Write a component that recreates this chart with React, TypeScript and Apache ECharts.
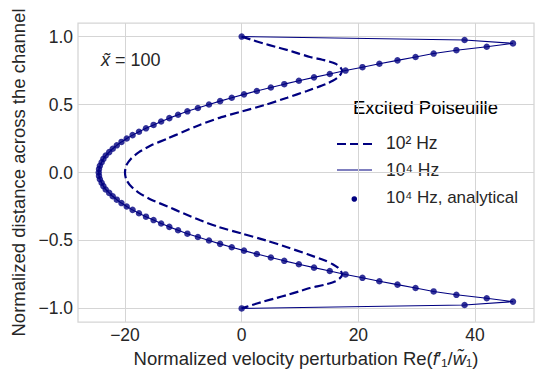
import React, { useEffect, useRef } from "react";
import * as echarts from "echarts";

// Normalized distance levels (shared by the 10^4 Hz solution and analytical points)
const Y_LEVELS = [
  1.0, 0.975, 0.95, 0.925, 0.9, 0.875, 0.85, 0.825, 0.8, 0.775, 0.75, 0.725, 0.7, 0.675, 0.65, 0.625,
  0.6, 0.575, 0.55, 0.525, 0.5, 0.475, 0.45, 0.425, 0.4, 0.375, 0.35, 0.325, 0.3, 0.275, 0.25, 0.225,
  0.2, 0.175, 0.15, 0.125, 0.1, 0.075, 0.05, 0.025, 0.0,
  -0.025, -0.05, -0.075, -0.1, -0.125, -0.15, -0.175, -0.2, -0.225, -0.25, -0.275, -0.3, -0.325, -0.35,
  -0.375, -0.4, -0.425, -0.45, -0.475, -0.5, -0.525, -0.55, -0.575, -0.6, -0.625, -0.65, -0.675, -0.7,
  -0.725, -0.75, -0.775, -0.8, -0.825, -0.85, -0.875, -0.9, -0.925, -0.95, -0.975, -1.0,
];

// 10^4 Hz velocity perturbation (solid line and analytical dots)
const HZ1E4_X = [
  0, 38.2, 46.5, 42.0, 36.8, 32.9, 29.8, 26.7, 23.6, 20.7, 17.8, 15.1, 12.4, 9.8, 7.3, 5.0,
  2.6, 0.4, -1.7, -3.7, -5.6, -7.5, -9.3, -10.9, -12.4, -13.8, -15.1, -16.4, -17.6, -18.7, -19.7, -20.6,
  -21.4, -22.1, -22.7, -23.3, -23.7, -24.0, -24.3, -24.45, -24.5,
  -24.45, -24.3, -24.0, -23.7, -23.3, -22.7, -22.1, -21.4, -20.6, -19.7, -18.7, -17.6, -16.4, -15.1,
  -13.8, -12.4, -10.9, -9.3, -7.5, -5.6, -3.7, -1.7, 0.4, 2.6, 5.0, 7.3, 9.8, 12.4,
  15.1, 17.8, 20.7, 23.6, 26.7, 29.8, 32.9, 36.8, 42.0, 46.5, 38.2, 0,
];

// 10^2 Hz velocity perturbation (dashed line)
const HZ1E2_Y = [
  1.0, 0.975, 0.95, 0.925, 0.9, 0.875, 0.85, 0.825, 0.8, 0.775, 0.75, 0.725, 0.7, 0.675, 0.65,
  0.6, 0.55, 0.5, 0.45, 0.4, 0.35, 0.3, 0.25, 0.2, 0.15, 0.1, 0.05, 0.0,
  -0.05, -0.1, -0.15, -0.2, -0.25, -0.3, -0.35, -0.4, -0.45, -0.5, -0.55, -0.6,
  -0.65, -0.675, -0.7, -0.725, -0.75, -0.775, -0.8, -0.825, -0.85, -0.875, -0.9, -0.925, -0.95, -0.975, -1.0,
];
const HZ1E2_X = [
  0, 1.8, 3.7, 5.8, 7.9, 9.8, 11.7, 14.3, 16.1, 16.9, 17.2, 17.0, 16.5, 15.6, 14.4,
  11.2, 7.8, 4.2, 0.1, -4.0, -7.2, -10.0, -12.7, -15.5, -17.6, -19.0, -19.8, -20.0,
  -19.8, -19.0, -17.6, -15.5, -12.7, -10.0, -7.2, -4.0, 0.1, 4.2, 7.8, 11.2,
  14.4, 15.6, 16.5, 17.0, 17.2, 16.9, 16.1, 14.3, 11.7, 9.8, 7.9, 5.8, 3.7, 1.8, 0,
];

const X_TICKS = [-20, 0, 20, 40];
const Y_TICKS = [-1.0, -0.5, 0.0, 0.5, 1.0];

const NAVY = "#000080";
const TEXT = "#262626";
const GRID = "#d5d5d5";
const FONT = "'Liberation Sans', Arial, sans-serif";

const fmtMinus = (s: string) => s.replace("-", "\u2212");

export default function App() {
  const ref = useRef<HTMLDivElement>(null);
  useEffect(() => {
    if (!ref.current) return;
    const chart = echarts.init(ref.current, null, { renderer: "svg" });
    const solid = HZ1E4_X.map((x, i) => [x, Y_LEVELS[i]]);
    const dashed = HZ1E2_X.map((x, i) => [x, HZ1E2_Y[i]]);
    chart.setOption({
      animation: false,
      backgroundColor: "#ffffff",
      textStyle: { fontFamily: FONT, color: TEXT },
      grid: {
        left: 78,
        right: 11,
        top: 23,
        bottom: 55,
        show: true,
        borderColor: GRID,
        borderWidth: 1.25,
        backgroundColor: "transparent",
      },
      xAxis: {
        type: "value",
        min: -28.05,
        max: 50.1,
        axisLine: { show: false },
        axisTick: { show: false, customValues: X_TICKS },
        axisLabel: {
          customValues: X_TICKS,
          formatter: (v: number) => fmtMinus(String(v)),
          color: TEXT,
          fontFamily: FONT,
          fontSize: 17.5,
          margin: 4,
        },
        splitLine: { show: true, lineStyle: { color: GRID, width: 1 } },
        name: "Normalized velocity perturbation Re({i|f}\u2032\u2081/{i|w\u0303}\u2081)",
        nameLocation: "middle",
        nameGap: 26,
        nameTextStyle: {
          color: TEXT,
          fontFamily: FONT,
          fontSize: 18.5,
          rich: { i: { fontStyle: "italic", fontFamily: FONT, fontSize: 18.5, color: TEXT } },
        },
      },
      yAxis: {
        type: "value",
        min: -1.1,
        max: 1.1,
        axisLine: { show: false },
        axisTick: { show: false, customValues: Y_TICKS },
        axisLabel: {
          customValues: Y_TICKS,
          formatter: (v: number) => fmtMinus(v.toFixed(1)),
          color: TEXT,
          fontFamily: FONT,
          fontSize: 17.5,
          margin: 5,
        },
        splitLine: { show: true, lineStyle: { color: GRID, width: 1 } },
        name: "Normalized distance across the channel",
        nameLocation: "middle",
        nameGap: 46,
        nameTextStyle: { color: TEXT, fontFamily: FONT, fontSize: 18.5 },
      },
      series: [
        {
          name: "10\u00b2 Hz",
          type: "line",
          data: dashed,
          showSymbol: false,
          symbol: "none",
          smooth: 0.2,
          lineStyle: { color: NAVY, width: 2.2, type: [9, 4] },
          z: 2,
        },
        {
          name: "10\u2074 Hz",
          type: "line",
          data: solid,
          showSymbol: false,
          symbol: "none",
          lineStyle: { color: NAVY, width: 1.1 },
          z: 3,
        },
        {
          name: "10\u2074 Hz, analytical",
          type: "scatter",
          data: solid,
          symbol: "circle",
          symbolSize: 6.5,
          itemStyle: { color: NAVY },
          z: 4,
        },
      ],
      graphic: [
        {
          type: "text",
          left: 101,
          top: 51,
          style: {
            text: "{i|x\u0303}{eq|=}{n|100}",
            fill: TEXT,
            font: `17.5px ${FONT}`,
            rich: {
              i: { fontStyle: "italic", fontSize: 18, fontFamily: FONT, fill: TEXT },
              eq: { fontSize: 18, fontFamily: FONT, fill: TEXT, padding: [0, 5, 0, 5] },
              n: { fontSize: 18, fontFamily: FONT, fill: TEXT },
            },
          },
        },
        {
          type: "text",
          x: 353,
          y: 107,
          style: {
            text: "Excited Poiseuille",
            fill: "#000000",
            font: `18.5px ${FONT}`,
            verticalAlign: "middle",
          },
        },
        {
          type: "line",
          shape: { x1: 337, y1: 144, x2: 372, y2: 144 },
          style: { stroke: NAVY, lineWidth: 2.2, lineDash: [9, 4] },
        },
        {
          type: "text",
          x: 386,
          y: 143,
          style: { text: "10\u00b2 Hz", fill: TEXT, font: `17.5px ${FONT}`, verticalAlign: "middle" },
        },
        {
          type: "line",
          shape: { x1: 337, y1: 170, x2: 372, y2: 170 },
          style: { stroke: NAVY, lineWidth: 1.1 },
        },
        {
          type: "text",
          x: 386,
          y: 170,
          style: { text: "10\u2074 Hz", fill: TEXT, font: `17.5px ${FONT}`, verticalAlign: "middle" },
        },
        {
          type: "circle",
          shape: { cx: 354.3, cy: 199, r: 2.8 },
          style: { fill: NAVY },
        },
        {
          type: "text",
          x: 386,
          y: 197,
          style: {
            text: "10\u2074 Hz, analytical",
            fill: TEXT,
            font: `17px ${FONT}`,
            verticalAlign: "middle",
          },
        },
      ],
    });
    return () => chart.dispose();
  }, []);
  return <div ref={ref} style={{ width: 545, height: 377, position: "absolute", left: 0, top: 0 }} />;
}
